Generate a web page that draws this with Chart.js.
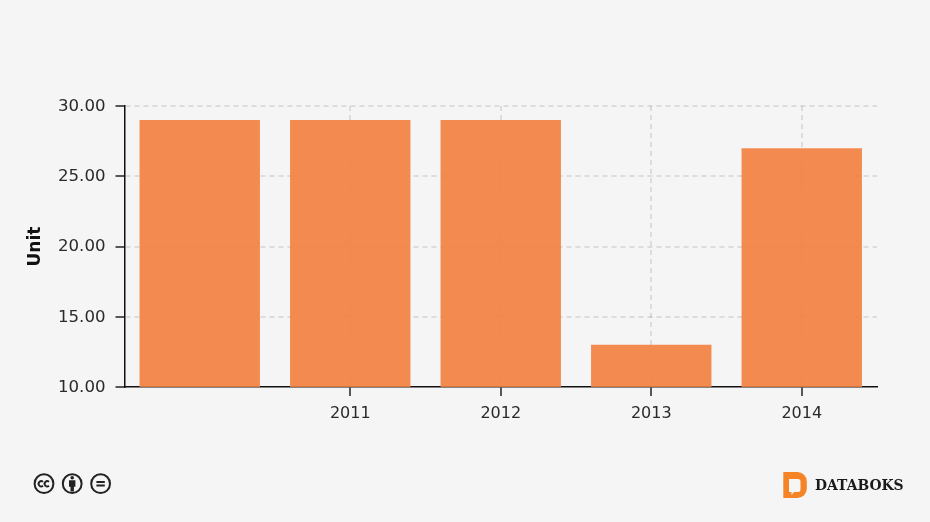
<!DOCTYPE html>
<html>
<head>
<meta charset="utf-8">
<title>Unit</title>
<script src="https://cdn.jsdelivr.net/npm/chart.js@4"></script>
<style>
    html, body { margin: 0; padding: 0; background: #f5f5f5; }
    #wrap { position: relative; width: 930px; height: 522px; overflow: hidden; }
    #chart { position: absolute; left: 0; top: 0; }
    #cc { position: absolute; left: 32px; top: 472px; }
    #logo { position: absolute; left: 783px; top: 472px; }
    #brand { position: absolute; left: 815px; top: 477px; font: bold 13.9px "DejaVu Serif", serif; color: #1a1a1a; }
</style>
</head>
<body>
<div id="wrap">
    <canvas id="chart" width="930" height="522"></canvas>

    <!-- 라이선스 아이콘 -->
    <svg id="cc" width="82" height="24" viewBox="0 0 82 24">
        <g fill="none" stroke="#222" stroke-width="2">
            <circle cx="12" cy="11.7" r="9.4"/>
            <circle cx="40.2" cy="11.7" r="9.4"/>
            <circle cx="68.6" cy="11.7" r="9.4"/>
            <path d="M11 9.9 a2.6 2.6 0 1 0 0 3.8" stroke-width="1.9"/>
            <path d="M17 9.9 a2.6 2.6 0 1 0 0 3.8" stroke-width="1.9"/>
            <path d="M64.4 10 h8.4 M64.4 13.6 h8.4" stroke-width="2"/>
        </g>
        <circle cx="40.2" cy="5.8" r="1.8" fill="#222"/>
        <path d="M37 8.2 h6.4 v6.6 h-1.5 v4.8 h-3.4 v-4.8 h-1.5 z" fill="#222"/>
    </svg>

    <!-- 로고 -->
    <svg id="logo" width="26" height="28" viewBox="0 0 26 28">
        <path d="M0.3 0 h14 a9.5 9.5 0 0 1 9.5 9.5 v7 a9.5 9.5 0 0 1 -9.5 9.5 h-14 z" fill="#f58426"/>
        <path d="M6 7 h9 a2.5 2.5 0 0 1 2.5 2.5 v8 a2.5 2.5 0 0 1 -2.5 2.5 h-4 l-2.5 3 v-3 h-2.5 z" fill="#f5f5f5"/>
    </svg>
    <div id="brand">DATABOKS</div>
</div>

<script>
// 차트 데이터
const categories = ['', '2011', '2012', '2013', '2014'];
const unitValues = [29, 29, 29, 13, 27];
const yTicks = [10, 15, 20, 25, 30];

const tickFont = { family: '"DejaVu Sans", Verdana, sans-serif', size: 16 };
const gridColor = 'rgba(0,0,0,0.1)';

new Chart(document.getElementById('chart').getContext('2d'), {
    type: 'bar',
    data: {
        labels: categories,
        datasets: [{
            label: 'Unit',
            data: unitValues,
            backgroundColor: 'rgba(243,127,63,0.9)',
            borderWidth: 0,
            barPercentage: 0.8,
            categoryPercentage: 1
        }]
    },
    options: {
        responsive: false,
        animation: false,
        devicePixelRatio: 1,
        layout: { padding: { left: 0, right: 53, top: 106, bottom: 0 } },
        plugins: {
            legend: { display: false },
            tooltip: { enabled: false }
        },
        scales: {
            x: {
                // 첫 번째 항목은 라벨과 눈금이 없음
                afterFit: scale => { scale.height = 135; },
                grid: {
                    offset: false,
                    tickLength: 9,
                    tickWidth: 1.5,
                    tickColor: ctx => ctx.index === 0 ? 'transparent' : '#222',
                    lineWidth: 2,
                    color: ctx => ctx.index === 0 ? 'transparent' : gridColor,
                    tickBorderDash: []
                },
                border: { color: '#111', width: 1.5, dash: [5, 4] },
                ticks: {
                    color: '#2a2a2a',
                    font: tickFont,
                    padding: 8,
                    maxRotation: 0,
                    autoSkip: false
                }
            },
            y: {
                min: 10,
                max: 30,
                afterFit: scale => { scale.width = 124.5; },
                afterBuildTicks: scale => { scale.ticks = yTicks.map(value => ({ value })); },
                grid: {
                    tickLength: 9,
                    tickWidth: 1.5,
                    tickColor: '#222',
                    lineWidth: 2,
                    color: ctx => ctx.index === 0 ? 'transparent' : gridColor,
                    tickBorderDash: []
                },
                border: { color: '#111', width: 1.5, dash: [5, 4] },
                title: {
                    display: true,
                    text: 'Unit',
                    color: '#111',
                    font: { family: '"DejaVu Sans", Verdana, sans-serif', size: 17, weight: 'bold' },
                    padding: { top: 25, bottom: 0 }
                },
                ticks: {
                    color: '#2a2a2a',
                    font: { family: tickFont.family, size: 16.6 },
                    padding: 10,
                    labelOffset: 0.5,
                    callback: value => value.toFixed(2)
                }
            }
        }
    }
});
</script>
</body>
</html>
